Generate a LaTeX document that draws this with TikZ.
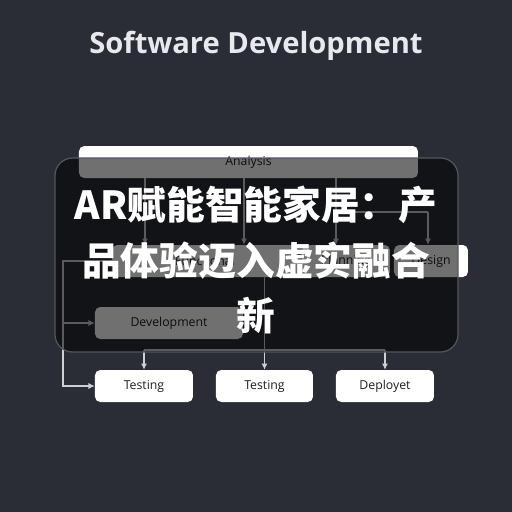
\documentclass[tikz,border=0pt]{standalone}
\usepackage{fontspec}
\setmainfont{Open Sans}
\newfontfamily\cjk{Noto Sans CJK SC}
\usetikzlibrary{arrows.meta,positioning,calc}
\definecolor{bgslate}{RGB}{42,45,53}
\definecolor{panelline}{RGB}{84,86,94}
\definecolor{wirecol}{RGB}{208,208,212}
\definecolor{labelcol}{RGB}{30,30,34}
\definecolor{titlecol}{RGB}{232,233,236}
\def\u{0.02cm}
\tikzset{
  % 白色流程框
  box/.style={
    fill=white,
    rounded corners=3pt,
    inner sep=0pt,
    text=labelcol,
    font=\fontsize{7}{8}\selectfont
  },
  % 半透明面板
  panel/.style={
    draw=panelline,
    line width=0.7pt,
    fill=black,
    fill opacity=0.56,
    rounded corners=10pt,
    inner sep=0pt
  },
  % 连线与箭头
  wire/.style={wirecol, line width=0.6pt},
  arr/.style={wire, -{Latex[length=3.5pt,width=3.5pt]}},
}

\begin{document}
\begin{tikzpicture}[x=0.02cm, y=-0.02cm]
    % 背景
    \fill[bgslate] (0,0) rectangle (512,512);
    \useasboundingbox (0,0) rectangle (512,512);

    % 标题
    \node[text=titlecol, font=\fontsize{16.6}{19}\selectfont\bfseries] (title) at (256,46) {Software Development};

    % 上层流程框(被面板压暗)
    \node[box, minimum width=339*\u, minimum height=32*\u] (analysis) at (248.5,162) {Analysis};
    \node[box, minimum width=186*\u, minimum height=32*\u] (func) at (205,261) {Functional};
    \node[box, minimum width=88*\u, minimum height=32*\u] (plan) at (346,261) {Planning};
    \node[box, minimum width=74*\u, minimum height=32*\u] (design) at (431,261) {Design};
    \node[box, minimum width=148*\u, minimum height=32*\u] (dev) at (169,323) {Development};

    % 下层流程框
    \node[box, minimum width=98*\u, minimum height=32*\u] (test1) at (144,386) {Testing};
    \node[box, minimum width=97*\u, minimum height=32*\u] (test2) at (264.5,386) {Testing};
    \node[box, minimum width=98*\u, minimum height=32*\u] (deploy) at (385,386) {Deployet};

    % 列坐标
    \coordinate (c1) at (145,0);
    \coordinate (c2) at (244,0);
    \coordinate (c3) at (336,0);
    \coordinate (c4) at (428,0);
    \coordinate (rail) at (63,0);
    \coordinate (split) at (0,212);
    \coordinate (bus) at (0,350);

    % Analysis 向下
    \draw[arr] (analysis.south -| c1) -- (func.north -| c1);
    \draw[arr] (analysis.south -| c2) -- (func.north -| c2);
    \draw[arr] (analysis.south -| c3) -- (plan.north -| c3);
    \draw[wire] (split -| c3) -- (split -| c4);
    \draw[arr] (split -| c4) -- (design.north -| c4);

    % 左侧回路
    \draw[arr] (func.west) -- (func.west -| rail) |- (test1.west);
    \draw[arr] (func.west -| rail) |- (dev.west);

    % 底部分支
    \draw[arr] (func.south -| test2.north) -- (test2.north);
    \draw[wire] (bus -| test1.north) -- (bus -| deploy.north);
    \draw[arr] (bus -| test1.north) -- (test1.north);
    \draw[arr] (bus -| deploy.north) -- (deploy.north);

    % 面板
    \node[panel, minimum width=403*\u, minimum height=194*\u] (board) at (256.5,255) {};

    % 覆盖文字
    \node[text=white, align=center, font=\cjk\fontsize{22}{31.5}\selectfont\bfseries] (headline) at (256,260)
        {AR赋能智能家居：产\\品体验迈入虚实融合\\新};
\end{tikzpicture}
\end{document}
